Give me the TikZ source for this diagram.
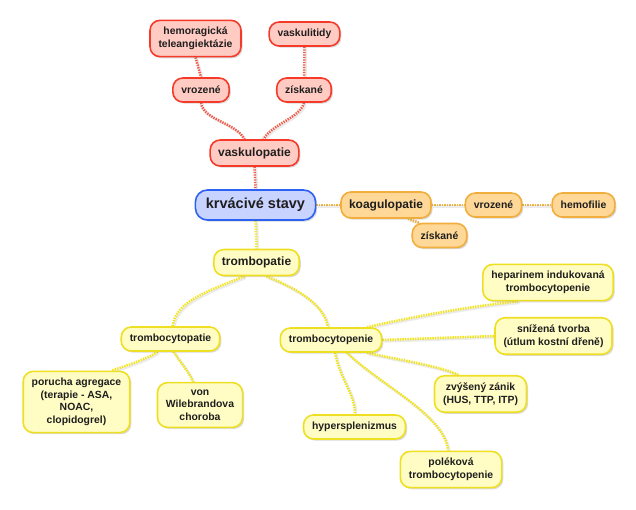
\documentclass[tikz,border=0pt]{standalone}
\usepackage{fontspec}
\setmainfont{Liberation Sans}
\usetikzlibrary{shadows,backgrounds}
\definecolor{redfill}{HTML}{FFCBC2}
\definecolor{redline}{HTML}{F53A2A}
\definecolor{bluefill}{HTML}{C9D3FF}
\definecolor{blueline}{HTML}{2C62F2}
\definecolor{orfill}{HTML}{FFD898}
\definecolor{orline}{HTML}{F2AE3C}
\definecolor{yefill}{HTML}{FFFDC4}
\definecolor{yeline}{HTML}{EEDF22}
\definecolor{redcon}{HTML}{F25A48}
\definecolor{orcon}{HTML}{F0B040}
\definecolor{yecon}{HTML}{F2E418}
\definecolor{txt}{HTML}{1E1E1E}
\begin{document}
\begin{tikzpicture}[x=1pt,y=-1pt,
  box/.style={rounded corners=10pt, line width=1.6pt, align=center,
    inner xsep=8.5pt, inner ysep=7pt, minimum height=24pt, text=txt,
    font=\bfseries\fontsize{10.4}{12.5}\selectfont,
    drop shadow={shadow xshift=1.6pt, shadow yshift=-1.6pt, opacity=0.3}},
  lvtwo/.style={font=\bfseries\fontsize{12}{14}\selectfont, minimum height=26pt, inner xsep=8pt},
  rbox/.style={box, draw=redline, fill=redfill},
  bbox/.style={box, draw=blueline, fill=bluefill, font=\bfseries\fontsize{14.5}{16}\selectfont, minimum height=30pt, inner xsep=10.5pt, rounded corners=12pt},
  obox/.style={box, draw=orline, fill=orfill},
  ybox/.style={box, draw=yeline, fill=yefill},
  con/.style={line width=2.5pt, dash pattern=on 1.4pt off 1.1pt,
    preaction={draw=black, opacity=0.08, solid, line width=2.5pt, transform canvas={shift={(1.5pt,-1.5pt)}}}},
  rcon/.style={con, draw=redcon},
  ocon/.style={con, draw=orcon},
  ycon/.style={con, draw=yecon}
]
\useasboundingbox (0,0) rectangle (636,509);

% red branch
\node[rbox] (hem) at (195.5,38.5) {hemoragická\\teleangiektázie};
\node[rbox] (vaskul) at (304.5,34) {vaskulitidy};
\node[rbox] (vrozR) at (201,90) {vrozené};
\node[rbox] (ziskR) at (304,90) {získané};
\node[rbox, lvtwo] (vasc) at (254.5,153) {vaskulopatie};

% root
\node[bbox] (root) at (255.5,205) {krvácivé stavy};

% orange branch
\node[obox, lvtwo] (koag) at (386,205) {koagulopatie};
\node[obox] (vrozO) at (493.5,205) {vrozené};
\node[obox] (hemof) at (583.5,205) {hemofilie};
\node[obox] (ziskO) at (439.5,235.5) {získané};

% yellow branch
\node[ybox, lvtwo] (trombo) at (256.5,262.5) {trombopatie};
\node[ybox] (tcpatie) at (170.5,339) {trombocytopatie};
\node[ybox] (porucha) at (76.5,402) {porucha agregace\\(terapie - ASA,\\NOAC,\\clopidogrel)};
\node[ybox] (von) at (200,405) {von\\Wilebrandova\\choroba};
\node[ybox] (tcpenie) at (331,340) {trombocytopenie};
\node[ybox] (hepar) at (548,282.5) {heparinem indukovaná\\trombocytopenie};
\node[ybox] (sniz) at (553.5,336) {snížená tvorba\\(útlum kostní dřeně)};
\node[ybox] (zvys) at (480.5,394) {zvýšený zánik\\(HUS, TTP, ITP)};
\node[ybox] (hyper) at (354.5,427) {hypersplenizmus};
\node[ybox] (polek) at (451,469.5) {poléková\\trombocytopenie};

\begin{pgfonlayer}{background}
% red connectors
\draw[rcon] (hem.south) -- (vrozR.north);
\draw[rcon] (vaskul.south) -- (ziskR.north);
\draw[rcon] (vrozR.south) .. controls (203,120) and (235,122) .. ([xshift=-10pt]vasc.north);
\draw[rcon] (ziskR.south) .. controls (300,118) and (272,124) .. ([xshift=9pt]vasc.north);
\draw[rcon] (vasc.south) -- (root.north);
% orange connectors
\draw[ocon] (root.east) -- (koag.west);
\draw[ocon] (koag.east) -- (vrozO.west);
\draw[ocon] (vrozO.east) -- (hemof.west);
\draw[ocon] ([xshift=22pt]koag.south) -- ([xshift=-20pt]ziskO.north);
% yellow connectors
\draw[ycon] (root.south) -- (trombo.north);
\draw[ycon] ([xshift=-12pt]trombo.south) .. controls (205,292) and (176,302) .. ([xshift=2pt]tcpatie.north);
\draw[ycon] ([xshift=10pt]trombo.south) .. controls (300,290) and (324,305) .. ([xshift=-3pt]tcpenie.north);
\draw[ycon] ([xshift=-13pt]tcpatie.south) .. controls (145,360) and (125,366) .. ([xshift=35pt]porucha.north);
\draw[ycon] ([xshift=3pt]tcpatie.south) .. controls (180,362) and (188,370) .. ([xshift=-7pt]von.north);
\draw[ycon] ([xshift=36pt]tcpenie.north) .. controls (420,315) and (480,305) .. ([xshift=-30pt]hepar.south);
\draw[ycon] (tcpenie.east) -- (sniz.west);
\draw[ycon] ([xshift=36pt]tcpenie.south) .. controls (400,360) and (440,366) .. ([xshift=-22pt]zvys.north);
\draw[ycon] ([xshift=4pt]tcpenie.south) .. controls (340,380) and (356,395) .. (hyper.north);
\draw[ycon] ([xshift=16pt]tcpenie.south) .. controls (380,385) and (445,415) .. ([xshift=-3pt]polek.north);
\end{pgfonlayer}
\end{tikzpicture}
\end{document}
